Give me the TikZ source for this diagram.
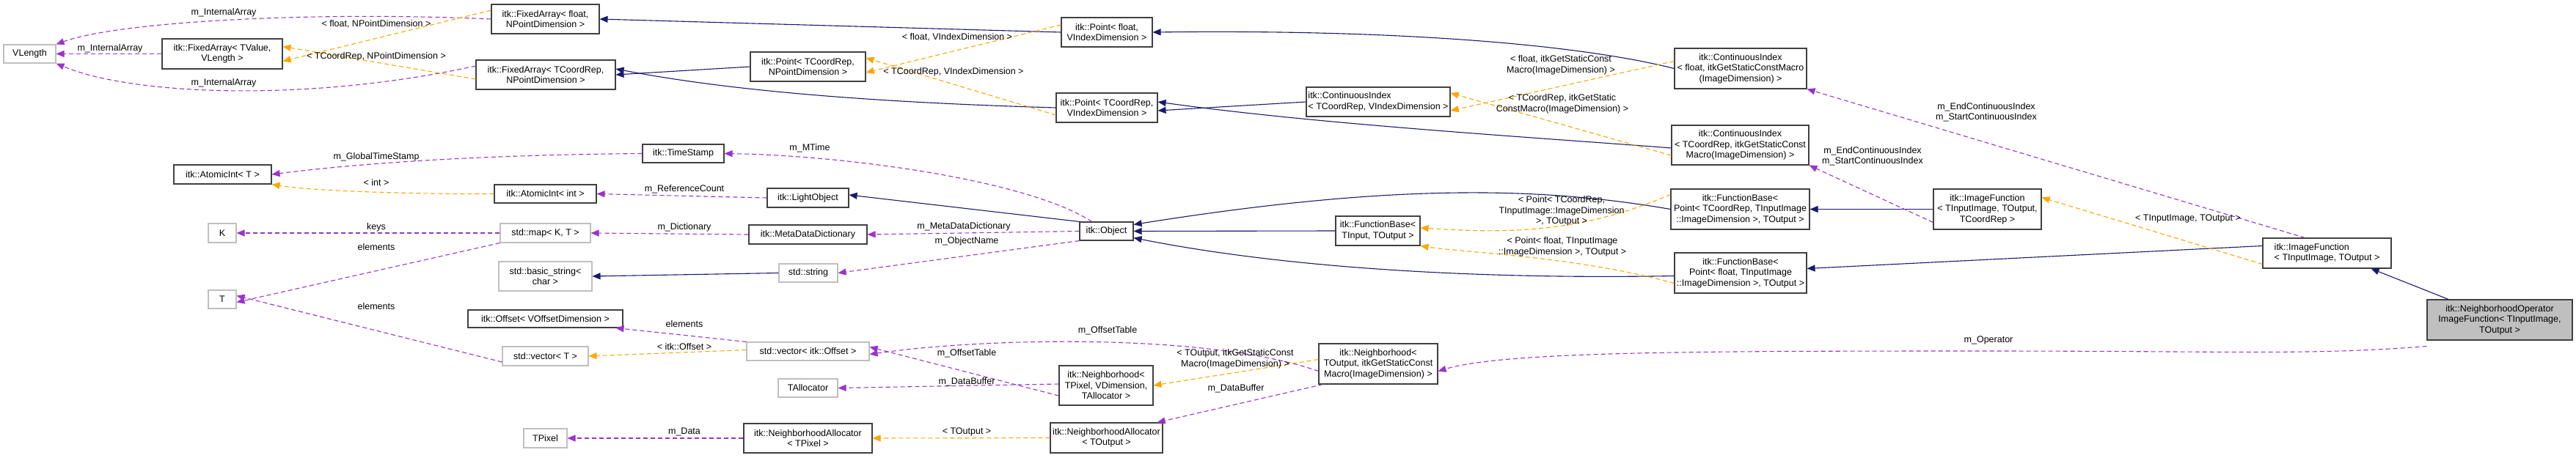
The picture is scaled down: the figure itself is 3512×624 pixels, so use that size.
\documentclass[tikz,border=0pt]{standalone}
\usepackage{fontspec}
\setmainfont{Liberation Sans}
\usetikzlibrary{arrows.meta}
\definecolor{inhc}{HTML}{191970}
\definecolor{usec}{HTML}{9A32CD}
\definecolor{tplc}{HTML}{FFA500}
\definecolor{grayb}{HTML}{BFBFBF}
\begin{document}
\begin{tikzpicture}[x=1pt,y=-1pt,
  every node/.style={font=\fontsize{12.5}{14.5}\selectfont},
  bx/.style={draw=black!75,line width=1.1pt,fill=white,inner sep=1pt,align=center},
  gbx/.style={bx,draw=grayb},
  lbl/.style={inner sep=0pt,align=center},
  inh/.style={draw=inhc,line width=1.1pt,-{Triangle[length=11pt,width=9pt]}},
  use/.style={draw=usec,line width=1.1pt,dash pattern=on 6pt off 4pt,-{Triangle[length=11pt,width=9pt]}},
  tpl/.style={draw=tplc,line width=1.1pt,dash pattern=on 6pt off 4pt,-{Triangle[length=11pt,width=9pt]}}]
\useasboundingbox (0,0) rectangle (3512,624);
% nodes
\node[gbx,minimum width=71,minimum height=25] (VL) at (40.5,73.5) {VLength};
\node[bx,minimum width=164,minimum height=41] (FAv) at (303,73.5) {itk::FixedArray< TValue,\\VLength >};
\node[bx,minimum width=147,minimum height=40] (FAf) at (743.5,26) {itk::FixedArray< float,\\NPointDimension >};
\node[bx,minimum width=190,minimum height=40] (FAc) at (744,102) {itk::FixedArray< TCoordRep,\\NPointDimension >};
\node[bx,minimum width=133,minimum height=26] (AIT) at (303.5,238) {itk::AtomicInt< T >};
\node[bx,minimum width=139,minimum height=25] (AIi) at (743.5,264.5) {itk::AtomicInt< int >};
\node[gbx,minimum width=38,minimum height=26] (K) at (303,318) {K};
\node[gbx,minimum width=38,minimum height=25] (T) at (303,408.5) {T};
\node[gbx,minimum width=123,minimum height=26] (map) at (743.5,318) {std::map< K, T >};
\node[gbx,minimum width=127,minimum height=40] (bstr) at (743.5,377) {std::basic\_string<\\char >};
\node[bx,minimum width=211,minimum height=24] (Off) at (743.5,435) {itk::Offset< VOffsetDimension >};
\node[gbx,minimum width=117,minimum height=26] (vecT) at (743.5,486) {std::vector< T >};
\node[gbx,minimum width=59,minimum height=26] (TPix) at (743.5,598) {TPixel};
\node[bx,minimum width=111,minimum height=25] (TS) at (931.5,209.5) {itk::TimeStamp};
\node[bx,minimum width=157,minimum height=40] (PcN) at (1101.5,91) {itk::Point< TCoordRep,\\NPointDimension >};
\node[bx,minimum width=111,minimum height=26] (LO) at (1101.5,270) {itk::LightObject};
\node[bx,minimum width=161,minimum height=26] (MDD) at (1101.5,320) {itk::MetaDataDictionary};
\node[gbx,minimum width=80,minimum height=25] (str) at (1102,372.5) {std::string};
\node[gbx,minimum width=167,minimum height=25] (vecO) at (1101.5,479.5) {std::vector< itk::Offset >};
\node[gbx,minimum width=81,minimum height=25] (TAl) at (1101.5,529.5) {TAllocator};
\node[bx,minimum width=175,minimum height=40] (NAp) at (1101.5,598) {itk::NeighborhoodAllocator\\< TPixel >};
\node[bx,minimum width=124,minimum height=40] (PfV) at (1509,44) {itk::Point< float,\\VIndexDimension >};
\node[bx,minimum width=138,minimum height=40] (PcV) at (1509,147) {itk::Point< TCoordRep,\\VIndexDimension >};
\node[bx,minimum width=73,minimum height=25] (Obj) at (1508.5,315.5) {itk::Object};
\node[bx,minimum width=128,minimum height=54] (NhP) at (1508,526) {itk::Neighborhood<\\TPixel, VDimension,\\TAllocator >};
\node[bx,minimum width=153,minimum height=41] (NAo) at (1508.5,597.5) {itk::NeighborhoodAllocator\\< TOutput >};
\node[bx,minimum width=196,minimum height=40,align=left] (CIcV) at (1879,139) {itk::ContinuousIndex\\< TCoordRep, VIndexDimension >};
\node[bx,minimum width=115,minimum height=40] (FBio) at (1878.5,315) {itk::FunctionBase<\\TInput, TOutput >};
\node[bx,minimum width=162,minimum height=55] (NhO) at (1879,496.5) {itk::Neighborhood<\\TOutput, itkGetStaticConst\\Macro(ImageDimension) >};
\node[bx,minimum width=180,minimum height=55] (CIf) at (2373,93.5) {itk::ContinuousIndex\\< float, itkGetStaticConstMacro\\(ImageDimension) >};
\node[bx,minimum width=187,minimum height=54] (CIc) at (2372.5,198) {itk::ContinuousIndex\\< TCoordRep, itkGetStaticConst\\Macro(ImageDimension) >};
\node[bx,minimum width=189,minimum height=55] (FBc) at (2372.5,285.5) {itk::FunctionBase<\\Point< TCoordRep, TInputImage\\::ImageDimension >, TOutput >};
\node[bx,minimum width=180,minimum height=55] (FBf) at (2373,372.5) {itk::FunctionBase<\\Point< float, TInputImage\\::ImageDimension >, TOutput >};
\node[bx,minimum width=147,minimum height=55] (IF3) at (2709.5,285.5) {itk::ImageFunction\\< TInputImage, TOutput,\\TCoordRep >};
\node[bx,minimum width=175,minimum height=41,align=left] (IF2) at (3172.5,345.5) {itk::ImageFunction\\< TInputImage, TOutput >};
\node[bx,fill=grayb,minimum width=198,minimum height=55] (NOIF) at (3408,436.5) {itk::NeighborhoodOperator\\ImageFunction< TInputImage,\\TOutput >};
% inheritance
\draw[inh] (PfV.west) -- (FAf.east);
\draw[inh] (PcN.west) -- (FAc.east);
\draw[inh] (PcV.west) .. controls (1200,140) and (1000,125) .. ([yshift=8]FAc.east);
\draw[inh] (CIf.west) .. controls (2150,60) and (1900,40) .. (PfV.east);
\draw[inh] (CIcV.west) -- ([yshift=-4]PcV.east);
\draw[inh] ([yshift=-4]CIc.west) .. controls (2100,188) and (1800,170) .. ([yshift=8]PcV.east);
\draw[inh] (Obj.north west) -- ([yshift=4]LO.east);
\draw[inh] (str.west) -- (bstr.east);
\draw[inh] (FBc.west) .. controls (2100,255) and (1900,250) .. ([yshift=-4]Obj.north east);
\draw[inh] (FBio.west) -- (Obj.east);
\draw[inh] ([yshift=-4]FBf.west) .. controls (2100,380) and (1800,375) .. ([yshift=4]Obj.south east);
\draw[inh] (IF3.west) -- (FBc.east);
\draw[inh] ([yshift=10]IF2.west) -- ([yshift=6]FBf.east);
\draw[inh] ([xshift=-70]NOIF.north) -- ([xshift=60]IF2.south);
% usage
\draw[use] (FAf.west) .. controls (420,15) and (160,30) .. (VL.north east);
\node[lbl] (l1) at (305,17) {m\_InternalArray};
\draw[use] (FAv.west) -- (VL.east);
\node[lbl] (l2) at (150,66) {m\_InternalArray};
\draw[use] ([yshift=12]FAc.west) .. controls (420,140) and (180,130) .. (VL.south east);
\node[lbl] (l3) at (305,113) {m\_InternalArray};
\draw[use] (TS.west) .. controls (600,212) and (450,228) .. (AIT.east);
\node[lbl] (l4) at (513,214) {m\_GlobalTimeStamp};
\draw[use] (LO.west) -- (AIi.east);
\node[lbl] (l5) at (933,258) {m\_ReferenceCount};
\draw[use] ([xshift=-20]Obj.north) .. controls (1400,245) and (1150,212) .. (TS.east);
\node[lbl] (l6) at (1104,202) {m\_MTime};
\draw[use] (map.west) -- (K.east);
\node[lbl] (l7) at (513,310) {keys};
\draw[use] (map.south west) -- ([yshift=-4]T.east);
\node[lbl] (l8) at (513,337) {elements};
\draw[use] ([yshift=-8]vecT.west) -- ([yshift=5]T.east);
\node[lbl] (l9) at (513,418) {elements};
\draw[use] (MDD.west) -- (map.east);
\node[lbl] (l10) at (933,310) {m\_Dictionary};
\draw[use] (Obj.west) -- (MDD.east);
\node[lbl] (l11) at (1314,309) {m\_MetaDataDictionary};
\draw[use] (Obj.south west) -- (str.east);
\node[lbl] (l12) at (1318,329) {m\_ObjectName};
\draw[use] (vecO.north west) -- ([xshift=-10]Off.south east);
\node[lbl] (l13) at (933,442) {elements};
\draw[use] ([yshift=-10]NhO.west) .. controls (1650,455) and (1350,460) .. ([yshift=-4]vecO.east);
\node[lbl] (l14) at (1510,451) {m\_OffsetTable};
\draw[use] ([yshift=-14]NhP.west) -- ([yshift=6]vecO.east);
\node[lbl] (l15) at (1318,482) {m\_OffsetTable};
\draw[use] ([yshift=2]NhP.west) -- (TAl.east);
\node[lbl] (l16) at (1318,521) {m\_DataBuffer};
\draw[use] (NAp.west) -- (TPix.east);
\node[lbl] (l17) at (933,589) {m\_Data};
\draw[use] ([xshift=6]NhO.south west) -- ([xshift=-8]NAo.north east);
\node[lbl] (l18) at (1685,530) {m\_DataBuffer};
\draw[use] ([yshift=-8]NOIF.south west) .. controls (3150,485) and (3050,479) .. (2700,479) .. controls (2300,479) and (2050,480) .. ([yshift=-10]NhO.east);
\node[lbl] (l19) at (2711,464) {m\_Operator};
\draw[use] ([xshift=-30]IF2.north) -- (CIf.south east);
\node[lbl] (l20) at (2708,153) {m\_EndContinuousIndex\\m\_StartContinuousIndex};
\draw[use] ([yshift=-18]IF3.west) -- (CIc.south east);
\node[lbl] (l21) at (2553,213) {m\_EndContinuousIndex\\m\_StartContinuousIndex};
% template instances
\draw[tpl] ([yshift=12]FAf.west) -- ([yshift=-10]FAv.east);
\node[lbl] (t1) at (513,33) {< float, NPointDimension >};
\draw[tpl] ([yshift=-6]FAc.west) -- ([yshift=10]FAv.east);
\node[lbl] (t2) at (513,77) {< TCoordRep, NPointDimension >};
\draw[tpl] (AIi.west) .. controls (550,265) and (420,260) .. (AIT.south east);
\node[lbl] (t3) at (513,249) {< int >};
\draw[tpl] ([yshift=10]PfV.west) -- ([yshift=-8]PcN.east);
\node[lbl] (t4) at (1305,51) {< float, VIndexDimension >};
\draw[tpl] ([yshift=-10]PcV.west) -- ([yshift=12]PcN.east);
\node[lbl] (t5) at (1300,98) {< TCoordRep, VIndexDimension >};
\draw[tpl] ([yshift=10]CIf.west) -- ([yshift=-12]CIcV.east);
\node[lbl] (t6) at (2128,89) {< float, itkGetStaticConst\\Macro(ImageDimension) >};
\draw[tpl] ([yshift=-14]CIc.west) -- ([yshift=12]CIcV.east);
\node[lbl] (t7) at (2130,142) {< TCoordRep, itkGetStatic\\ConstMacro(ImageDimension) >};
\draw[tpl] ([yshift=20]FBc.west) .. controls (2150,320) and (2050,318) .. ([yshift=4]FBio.east);
\node[lbl] (t8) at (2129,288) {< Point< TCoordRep,\\TInputImage::ImageDimension\\>, TOutput >};
\draw[tpl] ([yshift=-14]FBf.west) .. controls (2150,350) and (2000,345) .. (FBio.south east);
\node[lbl] (t9) at (2130,337) {< Point< float, TInputImage\\::ImageDimension >, TOutput >};
\draw[tpl] ([yshift=2]vecO.west) -- (vecT.east);
\node[lbl] (t10) at (933,473) {< itk::Offset >};
\draw[tpl] ([yshift=6]NhO.west) -- (NhP.east);
\node[lbl] (t11) at (1684,490) {< TOutput, itkGetStaticConst\\Macro(ImageDimension) >};
\draw[tpl] (NAo.west) -- (NAp.east);
\node[lbl] (t12) at (1318,589) {< TOutput >};
\draw[tpl] ([yshift=-15]IF2.west) -- ([yshift=16]IF3.east);
\node[lbl] (t13) at (2983,298) {< TInputImage, TOutput >};
\end{tikzpicture}
\end{document}
